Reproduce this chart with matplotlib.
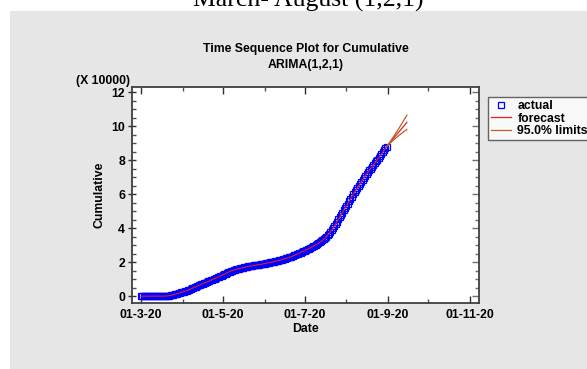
import numpy as np
import pandas as pd
import matplotlib
matplotlib.use('Agg')
import matplotlib.pyplot as plt
import matplotlib.dates as mdates
from matplotlib.patches import Rectangle
from matplotlib.ticker import FuncFormatter, MultipleLocator

plt.rcParams['font.family'] = ['Liberation Sans', 'DejaVu Sans']
plt.rcParams['font.weight'] = 'bold'

# Casos acumulados diarios, 1 marzo - 31 agosto 2020
cumulative = [
    0, 0, 0, 0, 0, 0, 0, 0, 0, 0, 0, 0, 1, 2, 4, 8, 15, 30,
    60, 120, 200, 310, 450, 620, 820, 1050, 1300,
    1530, 1760, 1990, 2220, 2450, 2690, 2940, 3200,
    3540, 3890, 4240, 4590, 4940, 5290, 5640, 5990, 6340, 6700,
    7030, 7360, 7690, 8020, 8350, 8680, 9010, 9340, 9670, 10000,
    10360, 10720, 11080, 11440, 11800, 12150, 12500,
    12900, 13300, 13700, 14100, 14500,
    14790, 15050, 15300,
    15520, 15740, 15950, 16160, 16370, 16590, 16800,
    17000, 17200, 17400,
    17530, 17660, 17790, 17920, 18050, 18180, 18310, 18440, 18570, 18700, 18850, 19000,
    19160, 19320, 19490, 19650, 19820, 19990, 20160, 20330, 20500, 20660, 20830, 21000,
    21240, 21480, 21730, 21980, 22240, 22510, 22780, 23050, 23330, 23600,
    23930, 24270, 24610, 24960, 25320, 25680, 26050, 26420, 26800,
    27190, 27590, 28000, 28400, 28810, 29230, 29650, 30070, 30500,
    31050, 31620, 32210, 32830, 33480, 34200, 35000,
    35900, 36850, 37850, 38900, 40000,
    41250, 42550, 43850, 45150, 46500,
    47800, 49100, 50400, 51700, 53000,
    54400, 55800, 57200, 58600, 60000,
    61200, 62400, 63600, 64800, 66000,
    67200, 68400, 69600, 70800, 72000,
    73000, 74000, 75000, 76000, 77000,
    78100, 79200, 80300, 81400, 82500,
    83600, 84700, 85800, 86900, 88000,
]

# Pronostico ARIMA(1,2,1) a 15 dias y limites del 95%
forecast = [88950, 89900, 90850, 91800, 92750, 93700, 94650, 95600,
            96550, 97500, 98450, 99400, 100350, 101300, 102250]
lower = [88800, 89570, 90310, 91040, 91750, 92450, 93130, 93800,
         94450, 95090, 95710, 96320, 96910, 97490, 98050]
upper = [89100, 90230, 91390, 92560, 93750, 94950, 96170, 97400,
         98650, 99910, 101190, 102480, 103790, 105110, 106450]

dates = pd.date_range('2020-03-01', periods=len(cumulative), freq='D')
fdates = pd.date_range(dates[-1], periods=len(forecast) + 1, freq='D')

scale = 10000.0
y = np.array(cumulative) / scale
f = np.concatenate([[y[-1]], np.array(forecast) / scale])
lo = np.concatenate([[y[-1]], np.array(lower) / scale])
up = np.concatenate([[y[-1]], np.array(upper) / scale])

fs = 8.8

fig = plt.figure(figsize=(5.87, 3.69), dpi=100)
fig.patch.set_facecolor('white')
fig.patches.append(Rectangle((10 / 587, 0), 1, 1 - 11 / 369, transform=fig.transFigure,
                             facecolor='#e6e6e6', edgecolor='none', zorder=-10))

# texto cortado de la parte superior (como en la captura original)
fig.text(0.525, 1 - 7 / 369, 'March- August (1,2,1)', ha='center', va='baseline',
         fontsize=18.5, family=['Liberation Serif', 'DejaVu Serif'], weight='normal')

ax = fig.add_axes([132 / 587, 1 - 303 / 369, (479 - 132) / 587, (303 - 87) / 369])
ax.set_facecolor('white')

ax.plot(dates, y, linestyle='none', marker='s', markersize=4, markerfacecolor='none',
        markeredgecolor='blue', markeredgewidth=0.9, label='actual', zorder=3)
ax.plot(dates, y, color='#e02020', lw=0.8, zorder=4)
ax.plot(fdates, f, color='#e02020', lw=0.9, label='forecast', zorder=4)
ax.plot(fdates, lo, color='#b8602a', lw=0.9, label='95.0% limits', zorder=4)
ax.plot(fdates, up, color='#b8602a', lw=0.9, zorder=4)

start = pd.Timestamp('2020-03-01')
end = pd.Timestamp('2020-11-01')
pad = pd.Timedelta(days=6.7)
ax.set_xlim(start - pad, end + pad)
ax.set_ylim(-0.4, 12.3)

ax.xaxis.set_major_locator(mdates.MonthLocator(bymonth=[3, 5, 7, 9, 11]))
ax.xaxis.set_minor_locator(mdates.MonthLocator(bymonth=[4, 6, 8, 10]))


def fmt_date(v, pos):
    d = mdates.num2date(v)
    return f'{d.day:02d}-{d.month}-{d:%y}'


ax.xaxis.set_major_formatter(FuncFormatter(fmt_date))
ax.yaxis.set_major_locator(MultipleLocator(2))
ax.yaxis.set_minor_locator(MultipleLocator(0.5))

ax.tick_params(axis='y', which='major', direction='inout', length=6, width=1,
               labelsize=fs, color='#303030', pad=2)
ax.tick_params(axis='y', which='minor', direction='in', length=3, width=1,
               color='#505050')
ax.tick_params(axis='x', which='major', direction='in', length=5, width=1,
               top=True, labelsize=fs, color='#303030', pad=4)
ax.tick_params(axis='x', which='minor', direction='in', length=3, width=1,
               top=True, color='#505050')
for lab in ax.get_xticklabels() + ax.get_yticklabels():
    lab.set_fontweight('bold')

# marcas del eje derecho hacia dentro
sec = ax.secondary_yaxis('right')
sec.yaxis.set_major_locator(MultipleLocator(2))
sec.yaxis.set_minor_locator(MultipleLocator(0.5))
sec.tick_params(which='major', direction='in', length=5, width=1, color='#707070',
                labelright=False)
sec.tick_params(which='minor', direction='in', length=3, width=1, color='#707070')
sec.spines['right'].set_visible(False)

for s in ax.spines.values():
    s.set_color('#404040')
    s.set_linewidth(1.3)

ax.set_xlabel('Date', fontsize=fs, fontweight='bold', labelpad=2)
ax.set_ylabel('Cumulative', fontsize=fs, fontweight='bold', labelpad=4)
ax.text(-0.005, 1.0, '(X 10000)', transform=ax.transAxes, ha='right', va='bottom',
        fontsize=fs, fontweight='bold')

ax.set_title('Time Sequence Plot for Cumulative\nARIMA(1,2,1)', fontsize=fs,
             fontweight='bold', pad=14, linespacing=1.35)

leg = fig.legend(loc='upper left', bbox_to_anchor=(488 / 587, 1 - 97 / 369),
                 prop={'size': fs, 'weight': 'bold'}, frameon=True, fancybox=False,
                 edgecolor='#404040', handlelength=1.6, borderpad=0.25,
                 labelspacing=0.05, handletextpad=0.55, borderaxespad=0)
leg.get_frame().set_linewidth(1.0)

plt.savefig('out.png', dpi=100)
